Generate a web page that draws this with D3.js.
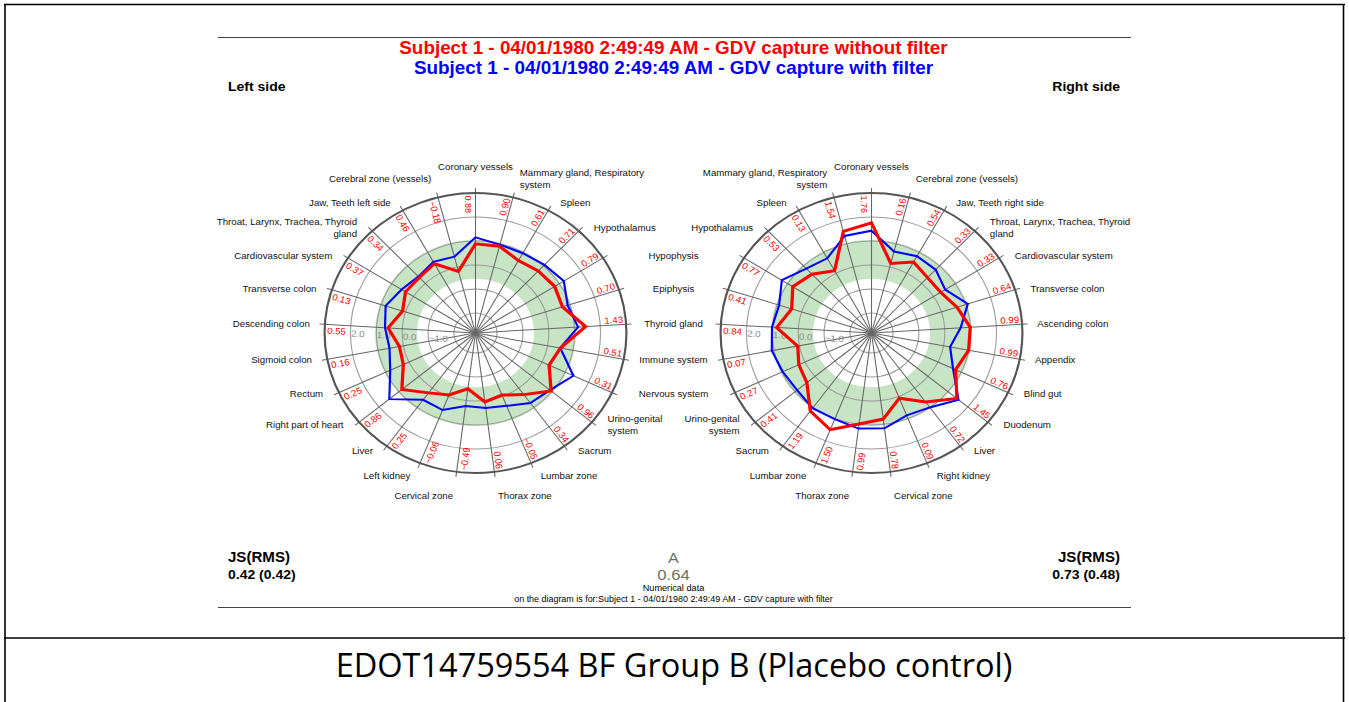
<!DOCTYPE html>
<html><head><meta charset="utf-8">
<script src="https://cdn.jsdelivr.net/npm/d3@7"></script>
<style>
html,body{margin:0;padding:0;background:#fff;}
svg{display:block;font-family:"Liberation Sans", Arial, sans-serif;}
</style></head>
<body>
<svg id="chart" width="1349" height="702"></svg>
<script>
// Sector names, clockwise from the top
const leftSectors = ["Coronary vessels","Mammary gland, Respiratory\nsystem","Spleen","Hypothalamus","Hypophysis","Epiphysis","Thyroid gland","Immune system","Nervous system","Urino-genital\nsystem","Sacrum","Lumbar zone","Thorax zone","Cervical zone","Left kidney","Liver","Right part of heart","Rectum","Sigmoid colon","Descending colon","Transverse colon","Cardiovascular system","Throat, Larynx, Trachea, Thyroid\ngland","Jaw, Teeth left side","Cerebral zone (vessels)"];
const rightSectors = ["Coronary vessels","Cerebral zone (vessels)","Jaw, Teeth right side","Throat, Larynx, Trachea, Thyroid\ngland","Cardiovascular system","Transverse colon","Ascending colon","Appendix","Blind gut","Duodenum","Liver","Right kidney","Cervical zone","Thorax zone","Lumbar zone","Sacrum","Urino-genital\nsystem","Nervous system","Immune system","Thyroid gland","Epiphysis","Hypophysis","Hypothalamus","Spleen","Mammary gland, Respiratory\nsystem"];

// Capture without filter (red) – these are the printed sector values
const leftWithout  = [0.88,0.90,0.61,0.71,0.79,0.70,1.43,0.51,0.31,0.96,0.34,-0.05,0.06,-0.49,-0.06,0.25,0.86,0.25,0.16,0.55,0.13,0.37,0.34,0.46,-0.18];
const rightWithout = [1.76,0.16,0.54,0.33,0.33,0.64,0.99,0.99,0.76,1.45,0.72,0.09,0.78,0.99,1.50,1.19,0.41,0.27,0.07,0.84,0.41,0.77,0.53,0.13,1.54];
// Capture with filter (blue)
const leftWith  = [1.15,0.97,0.96,1.06,1.21,0.91,1.14,0.50,1.35,0.90,0.77,0.43,0.32,0.23,0.62,0.61,1.49,0.81,0.55,0.67,0.82,0.55,0.39,0.55,0.45];
const rightWith = [1.43,0.67,0.82,0.79,0.54,1.08,0.62,0.26,0.65,1.53,1.00,0.86,1.17,1.18,1.03,1.04,0.90,0.96,1.09,1.02,0.92,1.27,0.85,0.72,1.34];

// Radial scale, rings and the normal band
const radialDomain = [-2, 3];
const ringValues = [-2, -1, 0, 1, 2];
const scaleLabels = [2, 1, 0, -1];
const normalBand = [-0.57, 1.05];

// Labels that sit between the two diagrams and are printed once
const sharedLabels = ["Hypophysis","Epiphysis","Thyroid gland","Immune system","Nervous system"];

const titleWithout = "Subject 1 - 04/01/1980 2:49:49 AM - GDV capture without filter";
const titleWith = "Subject 1 - 04/01/1980 2:49:49 AM - GDV capture with filter";
const jsLeft = "0.42 (0.42)", jsRight = "0.73 (0.48)", centralA = "0.64";
const caption = "EDOT14759554 BF Group B (Placebo control)";

const svg = d3.select("#chart");
const K = 1.078;              // horizontal stretch of the diagram panel
const cy = 333;
const cxL = 475.5 / K, cxR = 871.5 / K;
const midX = (cxL + cxR) / 2;

// page frame
const frame = svg.append("g").attr("stroke", "#000").attr("stroke-width", 1.6);
frame.append("line").attr("x1", 4).attr("x2", 1345).attr("y1", 4.5).attr("y2", 4.5);
frame.append("line").attr("x1", 5).attr("x2", 5).attr("y1", 4).attr("y2", 702);
frame.append("line").attr("x1", 1343.5).attr("x2", 1343.5).attr("y1", 4).attr("y2", 702);
frame.append("line").attr("x1", 4).attr("x2", 1345).attr("y1", 638).attr("y2", 638);

svg.append("text").attr("x", 674).attr("y", 677).attr("text-anchor", "middle")
  .style("font-family", "'Open Sans', Lato, sans-serif").style("font-size", "32.5px").attr("fill", "#000")
  .text(caption);

const panel = svg.append("g").attr("transform", `scale(${K},1)`);

panel.append("line").attr("x1", 218 / K).attr("x2", 1131 / K).attr("y1", 37.5).attr("y2", 37.5)
  .attr("stroke", "#444").attr("stroke-width", 1);
panel.append("line").attr("x1", 218 / K).attr("x2", 1131 / K).attr("y1", 607.5).attr("y2", 607.5)
  .attr("stroke", "#444").attr("stroke-width", 1);

panel.append("text").attr("x", midX).attr("y", 54).attr("text-anchor", "middle")
  .attr("fill", "#ff0000").style("font-weight", "bold").style("font-size", "17.5px").text(titleWithout);
panel.append("text").attr("x", midX).attr("y", 74).attr("text-anchor", "middle")
  .attr("fill", "#0000ff").style("font-weight", "bold").style("font-size", "17.5px").text(titleWith);

const leftX = 228 / K, rightX = 1120 / K;
panel.append("text").attr("x", leftX).attr("y", 91).style("font-weight", "bold").style("font-size", "13px").text("Left side");
panel.append("text").attr("x", rightX).attr("y", 91).attr("text-anchor", "end").style("font-weight", "bold").style("font-size", "13px").text("Right side");

panel.append("text").attr("x", leftX).attr("y", 562).style("font-weight", "bold").style("font-size", "14px").text("JS(RMS)");
panel.append("text").attr("x", leftX).attr("y", 579).style("font-weight", "bold").style("font-size", "13px").text(jsLeft);
panel.append("text").attr("x", rightX).attr("y", 562).attr("text-anchor", "end").style("font-weight", "bold").style("font-size", "14px").text("JS(RMS)");
panel.append("text").attr("x", rightX).attr("y", 579).attr("text-anchor", "end").style("font-weight", "bold").style("font-size", "13px").text(jsRight);

panel.append("text").attr("x", midX).attr("y", 563).attr("text-anchor", "middle").attr("fill", "#6b7360").style("font-size", "15px").text("A");
panel.append("text").attr("x", midX).attr("y", 580).attr("text-anchor", "middle").attr("fill", "#6b7360").style("font-size", "15.5px").text(centralA);
panel.append("text").attr("x", midX).attr("y", 591).attr("text-anchor", "middle").style("font-size", "8.5px").text("Numerical data");
panel.append("text").attr("x", midX).attr("y", 602).attr("text-anchor", "middle").style("font-size", "8.3px")
  .text("on the diagram is for:" + titleWith);

const r = d3.scaleLinear().domain(radialDomain).range([20, 140]);
const fmt = d3.format(".2f");

function drawDiagram(cx, names, redVals, blueVals, isLeft) {
  const n = names.length;
  const step = 2 * Math.PI / n;
  const g = panel.append("g").attr("transform", `translate(${cx},${cy})`);
  const ang = i => i * step;
  const px = (a, R) => R * Math.sin(a);
  const py = (a, R) => -R * Math.cos(a);

  // normal band
  g.append("path")
    .attr("d", d3.arc().innerRadius(r(normalBand[0])).outerRadius(r(normalBand[1])).startAngle(0).endAngle(2 * Math.PI)())
    .attr("fill", "#c7e4c5");

  // rings
  g.selectAll(".ring").data(ringValues).join("circle")
    .attr("r", d => r(d)).attr("fill", "none").attr("stroke", "#9a9a9a").attr("stroke-width", 1);

  // spokes with outer ticks
  g.selectAll(".spoke").data(d3.range(n)).join("line")
    .attr("x1", 0).attr("y1", 0)
    .attr("x2", i => px(ang(i), 145)).attr("y2", i => py(ang(i), 145))
    .attr("stroke", "#666").attr("stroke-width", 1);

  // outer ring
  g.append("circle").attr("r", r(radialDomain[1])).attr("fill", "none").attr("stroke", "#555").attr("stroke-width", 2);

  // scale labels along the left horizontal spoke
  const sAng = ang(Math.round(n * 0.75));
  const sDeg = sAng * 180 / Math.PI;
  g.selectAll(".scl").data(scaleLabels).join("text")
    .attr("transform", d => `translate(${px(sAng, r(d) - 1)},${py(sAng, r(d) - 1)}) rotate(${sDeg + 90})`)
    .attr("dy", "1.2em").attr("fill", "#8a8a8a").style("font-size", "9px")
    .text(d => d3.format(".1f")(d));

  // series lines
  const line = d3.lineRadial().angle((d, i) => ang(i)).radius(d => r(d)).curve(d3.curveLinearClosed);
  g.append("path").attr("d", line(blueVals)).attr("fill", "none").attr("stroke", "#0000ff").attr("stroke-width", 2).attr("stroke-linejoin", "miter");
  g.append("path").attr("d", line(redVals)).attr("fill", "none").attr("stroke", "#ff0000").attr("stroke-width", 3).attr("stroke-linejoin", "miter");

  // sector values near the rim
  g.selectAll(".val").data(redVals).join("text")
    .each(function (d, i) {
      const a = ang(i), deg = a * 180 / Math.PI, R = 137.5;
      const right = Math.sin(a) > 0.01;
      d3.select(this)
        .attr("transform", `translate(${px(a, R)},${py(a, R)}) rotate(${right ? deg - 90 : deg + 90})`)
        .attr("text-anchor", right ? "end" : "start")
        .attr("dy", right ? "-0.2em" : "1.05em");
    })
    .attr("fill", "#ff0000").style("font-size", "9px")
    .text(d => fmt(d));

  // sector names
  names.forEach((name, i) => {
    const a = ang(i);
    const s = Math.sin(a), c = Math.cos(a);
    const shared = sharedLabels.includes(name);
    if (shared && !isLeft) return;
    const x = shared ? (midX - cx) : s * (154 + 12 * c * c);
    const y = -c * (144 + 22 * Math.pow(Math.abs(c), 12));
    const anchor = shared ? "middle" : (Math.abs(s) < 0.05 ? "middle" : (s > 0 ? "start" : "end"));
    const lines = name.split("\n");
    const t = g.append("text").attr("x", x).attr("y", y).attr("text-anchor", anchor)
      .attr("fill", "#111").style("font-size", "9px");
    lines.forEach((ln, j) => {
      t.append("tspan").attr("x", x)
        .attr("y", y + (j - (lines.length - 1) / 2) * 12)
        .attr("dy", "0.35em").text(ln);
    });
  });
}

drawDiagram(cxL, leftSectors, leftWithout, leftWith, true);
drawDiagram(cxR, rightSectors, rightWithout, rightWith, false);
</script>
</body></html>
